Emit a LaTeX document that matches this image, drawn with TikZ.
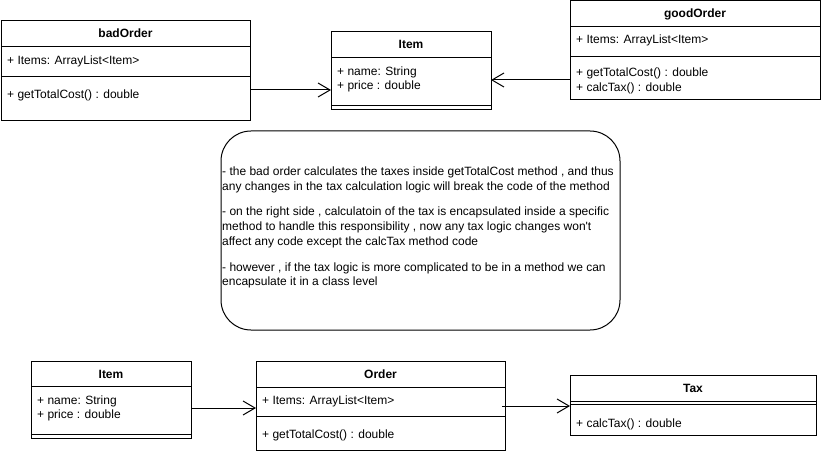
\documentclass[tikz,border=0pt]{standalone}
\usepackage{fontspec}
\setmainfont{Liberation Sans}
\usetikzlibrary{arrows.meta}
\begin{document}
\begin{tikzpicture}[x=1pt,y=-1pt,
  cls/.style={draw, line width=1pt, inner sep=0pt, outer sep=0pt, anchor=north west},
  ttl/.style={font=\fontsize{12}{14}\selectfont\bfseries, anchor=base, inner sep=0pt},
  attr/.style={font=\fontsize{12}{14}\selectfont, anchor=base west, inner sep=0pt},
  arr/.style={line width=1pt, -{Straight Barb[length=12pt,width=14pt]}},
  sepline/.style={line width=1pt}]
\useasboundingbox (0,0) rectangle (821,454);

% ---------- badOrder ----------
\node[cls, minimum width=249pt, minimum height=100pt] (bad) at (1,21) {};
\draw[sepline] (bad.west |- 0,47) -- (bad.east |- 0,47);
\draw[sepline] (bad.west |- 0,77) -- (bad.east |- 0,77);
\node[ttl] (badT) at (125.5,38) {badOrder};
\node[attr] (badA) at (7,65) {+ Items: ArrayList<Item>};
\node[attr] (badM) at (7,99) {+ getTotalCost() : double};

% ---------- Item (top) ----------
\node[cls, minimum width=160pt, minimum height=78pt] (itemT) at (331,32) {};
\draw[sepline] (itemT.west |- 0,58) -- (itemT.east |- 0,58);
\draw[sepline] (itemT.west |- 0,106) -- (itemT.east |- 0,106);
\node[ttl] (itemTT) at (411,49) {Item};
\node[attr] (itemTA1) at (337,76) {+ name: String};
\node[attr] (itemTA2) at (337,90) {+ price : double};

% ---------- goodOrder ----------
\node[cls, minimum width=250pt, minimum height=99pt] (good) at (570,1) {};
\draw[sepline] (good.west |- 0,27) -- (good.east |- 0,27);
\draw[sepline] (good.west |- 0,57) -- (good.east |- 0,57);
\node[ttl] (goodT) at (695,18) {goodOrder};
\node[attr] (goodA) at (576,44) {+ Items: ArrayList<Item>};
\node[attr] (goodM1) at (576,77) {+ getTotalCost() : double};
\node[attr] (goodM2) at (576,92) {+ calcTax() : double};

% ---------- note ----------
\node[draw, line width=1pt, rounded corners=30pt, minimum width=399pt, minimum height=199pt,
      inner sep=0pt, outer sep=0pt, anchor=north west] (note) at (221,131) {};
\node[attr] (n1) at (222,176) {- the bad order calculates the taxes inside getTotalCost method , and thus};
\node[attr] (n2) at (222,191) {any changes in the tax calculation logic will break the code of the method};
\node[attr] (n3) at (222,216) {- on the right side , calculatoin of the tax is encapsulated inside a specific};
\node[attr] (n4) at (222,231) {method to handle this responsibility , now any tax logic changes won\textquotesingle t};
\node[attr] (n5) at (222,245) {affect any code except the calcTax method code};
\node[attr] (n6) at (222,271) {- however , if the tax logic is more complicated to be in a method we can};
\node[attr] (n7) at (222,285) {encapsulate it in a class level};

% ---------- Item (bottom) ----------
\node[cls, minimum width=160pt, minimum height=77pt] (itemB) at (31,361) {};
\draw[sepline] (itemB.west |- 0,386) -- (itemB.east |- 0,386);
\draw[sepline] (itemB.west |- 0,434) -- (itemB.east |- 0,434);
\node[ttl] (itemBT) at (111,378) {Item};
\node[attr] (itemBA1) at (37,404) {+ name: String};
\node[attr] (itemBA2) at (37,418) {+ price : double};

% ---------- Order ----------
\node[cls, minimum width=249pt, minimum height=89pt] (ord) at (256,361) {};
\draw[sepline] (ord.west |- 0,387) -- (ord.east |- 0,387);
\draw[sepline] (ord.west |- 0,416) -- (ord.east |- 0,416);
\node[ttl] (ordT) at (380.5,378) {Order};
\node[attr] (ordA) at (262,404) {+ Items: ArrayList<Item>};
\node[attr] (ordM) at (262,438) {+ getTotalCost() : double};

% ---------- Tax ----------
\node[cls, minimum width=246pt, minimum height=60pt] (tax) at (570,375) {};
\draw[sepline] (tax.west |- 0,401) -- (tax.east |- 0,401);
\draw[sepline] (tax.west |- 0,404) -- (tax.east |- 0,404);
\node[ttl] (taxT) at (693,392) {Tax};
\node[attr] (taxM) at (576,427) {+ calcTax() : double};

% ---------- connectors ----------
\coordinate (y1) at (0,90);
\coordinate (y2) at (0,80);
\coordinate (y3) at (0,408);
\coordinate (y4) at (0,406);
\draw[arr] (bad.east |- y1) -- (itemT.west |- y1);
\draw[arr] (good.west |- y2) -- (itemT.east |- y2);
\draw[arr] (itemB.east |- y3) -- (ord.west |- y3);
\draw[arr] ([xshift=-3pt]ord.east |- y4) -- (tax.west |- y4);
\end{tikzpicture}
\end{document}
